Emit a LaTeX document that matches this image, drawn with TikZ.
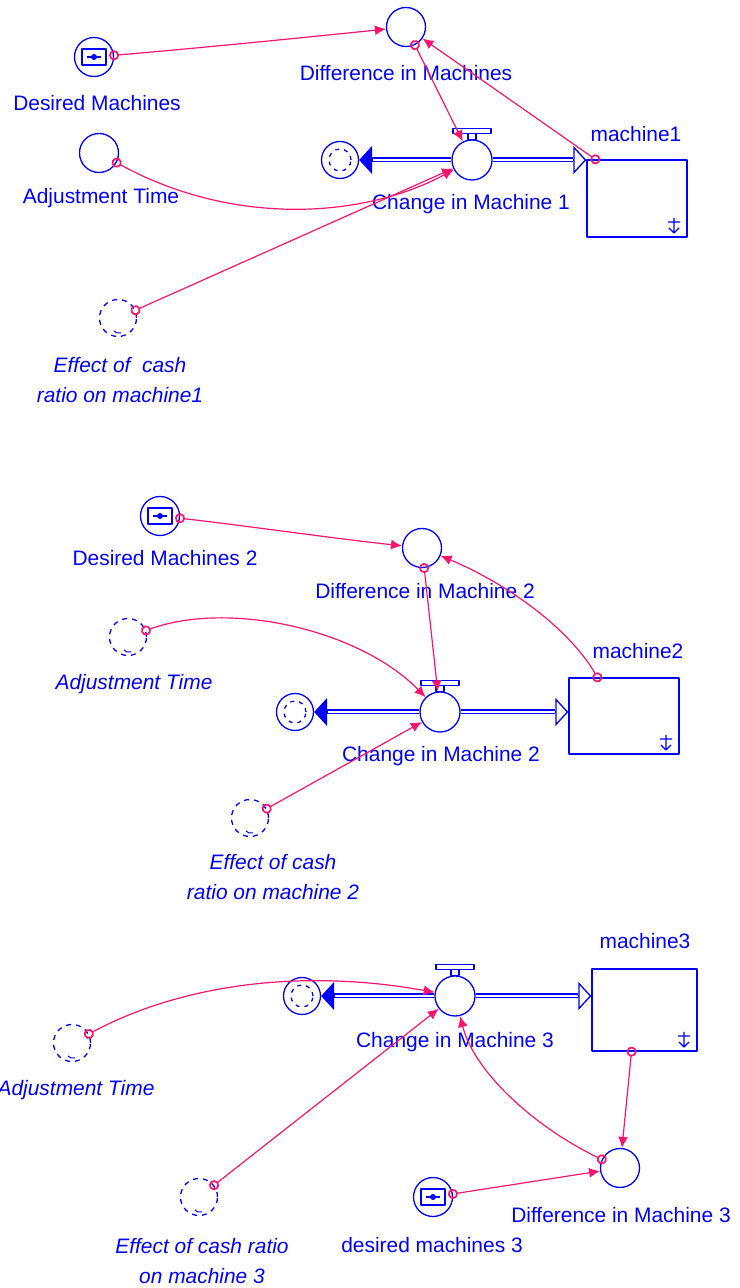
\documentclass[tikz,border=0pt]{standalone}
\usepackage{fontspec}
\setmainfont{Liberation Sans}
\usetikzlibrary{arrows.meta}
\definecolor{sdblue}{RGB}{0,0,255}
\definecolor{sdpink}{RGB}{250,20,110}
\tikzset{
  aux/.style={circle,draw=sdblue,line width=1.3bp,minimum size=39bp,inner sep=0pt,fill=white},
  conv/.style={aux,path picture={
    \draw [sdblue,line width=1.8bp] ([shift={(-12bp,-8bp)}]path picture bounding box.center) rectangle ([shift={(12bp,8bp)}]path picture bounding box.center);
    \draw [sdblue,line width=1.5bp] ([xshift=-7bp]path picture bounding box.center) -- ([xshift=7bp]path picture bounding box.center);
    \fill [sdblue] (path picture bounding box.center) circle (3bp);}},
  ghost/.style={aux,minimum size=37bp,dash pattern=on 5bp off 5bp,path picture={
    \draw [sdblue,line width=1bp,solid] ([shift={(-4bp,-13bp)}]path picture bounding box.center) -- ++(3bp,-2bp) -- ++(4bp,0bp);}},
  valve/.style={aux,minimum size=40bp},
  cloud/.style={aux,minimum size=37bp,path picture={
    \draw [sdblue,line width=1.3bp,dash pattern=on 4bp off 5bp] (path picture bounding box.center) circle (11bp);}},
  stock/.style={rectangle,draw=sdblue,line width=1.3bp,inner sep=0pt,path picture={
    \draw [sdblue,line width=1.2bp] ([shift={(-13bp,4bp)}]path picture bounding box.south east) -- ++(0bp,15bp)
      ([shift={(-19bp,15bp)}]path picture bounding box.south east) -- ++(12bp,0bp)
      ([shift={(-18bp,9bp)}]path picture bounding box.south east) -- ++(5bp,-5bp) -- ++(5bp,5bp);}},
  lbl/.style={text=sdblue,font=\fontsize{21pt}{30pt}\selectfont,inner sep=0pt,align=center},
  glbl/.style={lbl,font=\fontsize{21pt}{30pt}\selectfont\itshape},
  pipe/.style={draw=sdblue,line width=1.3bp,double=white,double distance=2.4bp},
  inflow/.style={sdblue,line width=1.3bp,-{Triangle[open,length=13bp,width=28bp]}},
  outflow/.style={sdblue,line width=1.3bp,-{Triangle[length=13bp,width=28bp]}},
  conn/.style={draw=sdpink,line width=1.2bp,{Circle[open,length=10bp,width=10bp,line width=1.7bp]}-{Latex[length=11bp,width=10bp]},shorten <=-5bp},
}
\begin{document}
\begin{tikzpicture}[>=latex,line join=bevel,]
\useasboundingbox (0bp,0bp) rectangle (740bp,1288bp);
%% machine 1
\node (node_dm1) at (94bp,1231bp) [conv] {};
  \node (node_at1) at (99bp,1135bp) [aux] {};
  \node (node_eff1) at (118bp,970bp) [ghost] {};
  \node (node_diff1) at (406bp,1261bp) [aux] {};
  \node (node_v1) at (472bp,1128bp) [valve] {};
  \node (node_c1) at (340bp,1128bp) [cloud] {};
  \node (node_s1) at (637bp,1089.5bp) [stock,minimum width=100bp,minimum height=77bp] {};
  \node (node_lbl_dm1) at (97bp,1185bp) [lbl] {Desired Machines};
  \node (node_lbl_at1) at (101bp,1090bp) [lbl] {Adjustment Time};
  \node (node_lbl_eff1) at (120bp,908bp) [glbl] {Effect of\ \ cash\\ratio on machine1};
  \node (node_lbl_diff1) at (406bp,1215bp) [lbl] {Difference in Machines};
  \node (node_lbl_v1) at (471bp,1084bp) [lbl] {Change in Machine 1};
  \node (node_lbl_s1) at (636bp,1154bp) [lbl] {machine1};
%% machine 2
\node (node_dm2) at (160bp,772bp) [conv] {};
  \node (node_diff2) at (422bp,740bp) [aux] {};
  \node (node_at2) at (128bp,651bp) [ghost] {};
  \node (node_v2) at (440bp,576bp) [valve] {};
  \node (node_c2) at (295bp,576bp) [cloud] {};
  \node (node_s2) at (624bp,572bp) [stock,minimum width=110bp,minimum height=76bp] {};
  \node (node_eff2) at (250bp,470bp) [ghost] {};
  \node (node_lbl_dm2) at (165bp,730bp) [lbl] {Desired Machines 2};
  \node (node_lbl_diff2) at (425bp,697bp) [lbl] {Difference in Machine 2};
  \node (node_lbl_at2) at (134bp,604bp) [glbl] {Adjustment Time};
  \node (node_lbl_v2) at (441bp,532bp) [lbl] {Change in Machine 2};
  \node (node_lbl_s2) at (638bp,637bp) [lbl] {machine2};
  \node (node_lbl_eff2) at (273bp,411bp) [glbl] {Effect of cash\\ratio on machine 2};
%% machine 3
\node (node_v3) at (455bp,292bp) [valve] {};
  \node (node_c3) at (302bp,292bp) [cloud] {};
  \node (node_s3) at (644.5bp,278bp) [stock,minimum width=105bp,minimum height=82bp] {};
  \node (node_at3) at (72bp,245bp) [ghost] {};
  \node (node_eff3) at (199bp,91bp) [ghost] {};
  \node (node_dm3) at (433bp,91bp) [conv] {};
  \node (node_diff3) at (620bp,120bp) [aux] {};
  \node (node_lbl_v3) at (455bp,246bp) [lbl] {Change in Machine 3};
  \node (node_lbl_s3) at (645bp,347bp) [lbl] {machine3};
  \node (node_lbl_at3) at (76bp,198bp) [glbl] {Adjustment Time};
  \node (node_lbl_eff3) at (202bp,27bp) [glbl] {Effect of cash ratio\\on machine 3};
  \node (node_lbl_dm3) at (432bp,43bp) [lbl] {desired machines 3};
  \node (node_lbl_diff3) at (621bp,73bp) [lbl] {Difference in Machine 3};
%% valve handles
\foreach \v in {node_v1,node_v2,node_v3} {
  \draw [sdblue,line width=1.3bp] ([xshift=-4bp]\v.north) rectangle ([xshift=4bp,yshift=6bp]\v.north);
  \draw [sdblue,line width=1.3bp] ([xshift=-19bp,yshift=6bp]\v.north) rectangle ([xshift=19bp,yshift=11bp]\v.north);
}
%% pipes
\coordinate (node_in1) at (node_v1.east -| node_s1.west);
  \coordinate (node_in2) at (node_v2.east -| node_s2.west);
  \coordinate (node_in3) at (node_v3.east -| node_s3.west);
  \draw [pipe] (node_v1.east) -- ([xshift=-13bp]node_in1);
  \draw [inflow] ([xshift=-13bp]node_in1) -- (node_in1);
  \draw [pipe] (node_v1.west) -- ([xshift=13bp]node_c1.east);
  \draw [outflow] ([xshift=13bp]node_c1.east) -- (node_c1.east);
  \draw [pipe] (node_v2.east) -- ([xshift=-13bp]node_in2);
  \draw [inflow] ([xshift=-13bp]node_in2) -- (node_in2);
  \draw [pipe] (node_v2.west) -- ([xshift=13bp]node_c2.east);
  \draw [outflow] ([xshift=13bp]node_c2.east) -- (node_c2.east);
  \draw [pipe] (node_v3.east) -- ([xshift=-13bp]node_in3);
  \draw [inflow] ([xshift=-13bp]node_in3) -- (node_in3);
  \draw [pipe] (node_v3.west) -- ([xshift=13bp]node_c3.east);
  \draw [outflow] ([xshift=13bp]node_c3.east) -- (node_c3.east);
%% connectors
\draw [conn] (node_dm1) ..controls (200bp,1240bp) and (300bp,1250bp) .. (node_diff1);
  \draw [conn] (node_diff1) -- (node_v1);
  \draw [conn] ([xshift=9bp]node_s1.north west) -- (node_diff1);
  \draw [conn] (node_at1) ..controls (230bp,1063bp) and (360bp,1068bp) .. (node_v1);
  \draw [conn] (node_eff1) -- (node_v1);
%
\draw [conn] (node_dm2) ..controls (240bp,763bp) and (330bp,750bp) .. (node_diff2);
  \draw [conn] (node_diff2) -- (node_v2);
  \draw [conn] ([xshift=29bp]node_s2.north west) ..controls (570bp,658bp) and (510bp,703bp) .. (node_diff2);
  \draw [conn] (node_at2) ..controls (230bp,688bp) and (360bp,658bp) .. (node_v2);
  \draw [conn] (node_eff2) -- (node_v2);
%
\draw [conn] (node_at3) ..controls (180bp,303bp) and (300bp,320bp) .. (node_v3);
  \draw [conn] (node_eff3) -- (node_v3);
  \draw [conn] ([xshift=-13bp]node_s3.south) -- (node_diff3);
  \draw [conn] (node_diff3) ..controls (540bp,158bp) and (475bp,213bp) .. (node_v3);
  \draw [conn] (node_dm3) -- (node_diff3);
%
\end{tikzpicture}
\end{document}
